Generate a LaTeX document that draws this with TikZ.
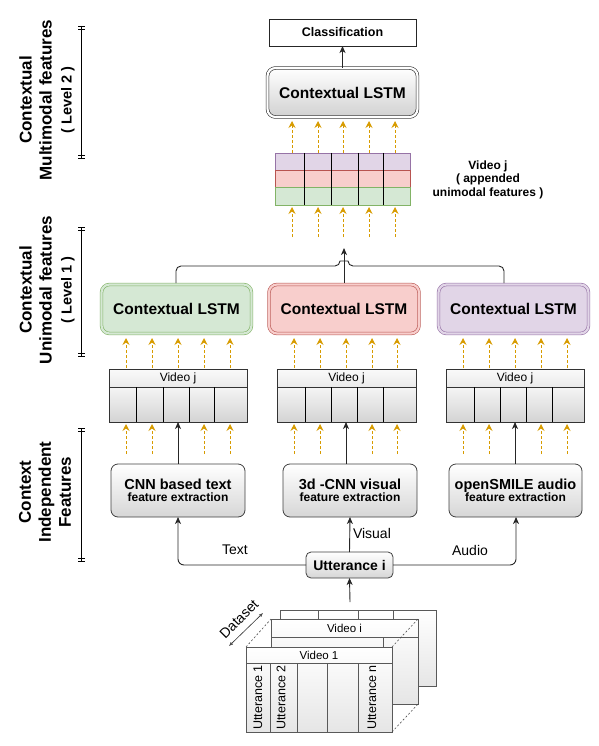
\documentclass[tikz,border=0pt]{standalone}
\usepackage{fontspec}
\setmainfont{Liberation Sans}
\usetikzlibrary{arrows.meta,calc}
\definecolor{orng}{HTML}{D79B00}
\definecolor{gfill}{HTML}{D5E8D4}\definecolor{gline}{HTML}{82B366}
\definecolor{rfill}{HTML}{F8CECC}\definecolor{rline}{HTML}{B85450}
\definecolor{pfill}{HTML}{E1D5E7}\definecolor{pline}{HTML}{9673A6}
\newcommand\fsz[2]{\fontsize{#1}{#2}\selectfont}
\tikzset{
  every node/.style={inner sep=0pt, outer sep=0pt},
  darr/.style={draw=orng, line width=0.9pt, dash pattern=on 3pt off 2pt,
    -{Stealth[length=7pt,width=7pt,inset=2.5pt,sep=0pt]}},
  sarr/.style={draw=black!85, line width=0.9pt, -{Stealth[length=7pt,width=6pt,inset=2pt]}},
  sline/.style={draw=black!85, line width=0.9pt},
  featbox/.style={draw=black!75, line width=0.8pt, rounded corners=7pt,
    top color=white, bottom color=black!16, minimum width=134pt, minimum height=53pt, align=center},
  lstmbase/.style={line width=0.6pt, double distance=2.2pt, rounded corners=8pt,
    minimum width=150pt, minimum height=49pt, font=\fsz{15.5}{18}\bfseries},
  lstmg/.style={lstmbase, draw=gline, double=gfill, fill=gfill},
  lstmr/.style={lstmbase, draw=rline, double=rfill, fill=rfill},
  lstmp/.style={lstmbase, draw=pline, double=pfill, fill=pfill},
  lstmtop/.style={lstmbase, draw=black!85, double=white, top color=white, bottom color=black!18},
  vhead/.style={draw=black!80, line width=0.8pt, top color=black!2, bottom color=black!8,
    minimum width=138pt, minimum height=18pt, anchor=north west, font=\fsz{12}{14}},
  vcell/.style={draw=black!80, line width=0.8pt, top color=black!4, bottom color=black!17,
    minimum width=138pt, minimum height=35pt, anchor=north west},
  gridrow/.style={line width=0.8pt, minimum width=135pt, minimum height=17.33pt},
  card/.style={draw=black!65, line width=0.7pt, top color=white, bottom color=black!10},
  sidelabel/.style={rotate=90, align=center, font=\fsz{17}{20}\bfseries},
}
\begin{document}
\begin{tikzpicture}[x=1pt,y=-1pt]
\useasboundingbox (0,0) rectangle (598,746);

% ---------------- side labels ----------------
\node[sidelabel] (lab2) at (47,100) {Contextual\\Multimodal features\\{\fsz{14.5}{20}( Level 2 )}};
\node[sidelabel] (lab1) at (47,290) {Contextual\\Unimodal features\\{\fsz{14.5}{20}( Level 1 )}};
\node[sidelabel] (lab0) at (45,492) {Context\\Independent\\Features};
\foreach \ya/\yb in {26/158, 227/356, 428/561}{
  \draw[line width=0.8pt] (81,\ya) -- (81,\yb);
  \draw[line width=0.7pt] (78,\ya) -- (85,\ya) (78,\ya+3) -- (85,\ya+3)
     (78,\yb) -- (85,\yb) (78,\yb-3) -- (85,\yb-3);
}

% ---------------- level 2 ----------------
\node[draw=black!85, line width=0.8pt, fill=white, minimum width=147pt, minimum height=27pt,
  font=\fsz{12.5}{15}\bfseries] (cls) at (342.5,32.5) {Classification};
\node[lstmtop] (lstm2) at (342.5,92.5) {Contextual LSTM};
\draw[sarr] (lstm2.north) -- (cls.south);

% appended features grid
\node[gridrow, draw=pline, fill=pfill] (rowp) at (342.5,161.67) {};
\node[gridrow, draw=rline, fill=rfill] (rowr) at (342.5,179) {};
\node[gridrow, draw=gline, fill=gfill] (rowg) at (342.5,196.33) {};
\foreach \x in {304,331,358,383} \draw[line width=0.8pt] (\x,153) -- (\x,205);
\node[align=center, font=\fsz{12}{13.5}\bfseries] (leg) at (488,179.5)
  {Video j\\( appended\\unimodal features )};

\foreach \x [count=\i] in {292,318,343,369,395}{
  \coordinate (ta\i) at (\x,153);
  \coordinate (tb\i) at (\x,121);
  \draw[darr] (ta\i) -- (tb\i);
  \coordinate (ua\i) at (\x,237);
  \coordinate (ub\i) at (\x,207);
  \draw[darr] (ua\i) -- (ub\i);
}

% ---------------- level 1 ----------------
\node[lstmg] (lg) at (176.5,309) {Contextual LSTM};
\node[lstmr] (lr) at (344,309) {Contextual LSTM};
\node[lstmp] (lp) at (513.5,309) {Contextual LSTM};
\coordinate (merge) at (344,248);
\draw[sline, rounded corners=5pt] (176,283) -- (176,266) -- (340,266)
   .. controls (340,261) and (348,261) .. (348,266) -- (504,266) -- (504,283);
\draw[sarr] (344,283) -- (merge);

% video j boxes
\node[vhead] (vlh) at (109,369) {Video j};
\node[vcell] (vlc) at (109,387) {};
\node[vhead, minimum width=139pt] (vmh) at (277,369) {Video j};
\node[vcell, minimum width=139pt] (vmc) at (277,387) {};
\node[vhead] (vrh) at (446,369) {Video j};
\node[vcell] (vrc) at (446,387) {};
\foreach \x in {136,163,189,214, 305,331,357,383, 474,500,526,552}
  \draw[line width=0.8pt] (\x,387) -- (\x,422);

% dashed arrows around video boxes
\foreach \x [count=\i] in {126,152,178,204,230, 294,320,346,372,397, 463,489,515,541,567}{
  \coordinate (va\i) at (\x,368);
  \coordinate (vb\i) at (\x,338);
  \draw[darr] (va\i) -- (vb\i);
}
\foreach \x [count=\i] in {126,152,204,230, 294,320,372,397, 463,489,541,567}{
  \coordinate (wa\i) at (\x,454);
  \coordinate (wb\i) at (\x,424);
  \draw[darr] (wa\i) -- (wb\i);
}

% ---------------- feature extraction ----------------
\node[featbox] (cnn) at (178,490.5)
  {\fsz{14.5}{17}\bfseries CNN based text\\\fsz{12}{15}\bfseries feature extraction};
\node[featbox] (vis) at (350,490.5)
  {\fsz{14.5}{17}\bfseries 3d -CNN visual\\\fsz{12}{15}\bfseries feature extraction};
\node[featbox, minimum width=133pt] (aud) at (515.5,490.5)
  {\fsz{14.5}{17}\bfseries openSMILE audio\\\fsz{12}{15}\bfseries feature extraction};
\draw[sarr] (178,464) -- (178,422);
\draw[sarr] (346,464) -- (346,422);
\draw[sarr] (515,464) -- (515,422);

% ---------------- utterance ----------------
\node[draw=black!75, line width=0.8pt, rounded corners=5pt, top color=white, bottom color=black!16,
  minimum width=87pt, minimum height=26pt, font=\fsz{14}{16}\bfseries] (utt) at (349.5,565) {Utterance i};
\draw[sarr, rounded corners=6pt] (utt.west) -- (178,565) -- (cnn.south);
\draw[sarr, rounded corners=6pt] (utt.east) -- (516,565) -- (516,517);
\draw[sarr] (utt.north) -- (vis.south);
\node[font=\fsz{14}{16}] (ttext) at (235,550) {Text};
\node[font=\fsz{14}{16}] (taud) at (470,550) {Audio};
\node[font=\fsz{14}{16}, anchor=west] (tvis) at (353,533) {Visual};
\coordinate (dsTop) at (350,602);
\draw[sarr] (dsTop) -- (utt.south);

% ---------------- dataset cards ----------------
% back card
\draw[card] (280,610) rectangle (436,686);
\foreach \x in {318,358,393} \draw[draw=black!65, line width=0.7pt] (\x,610) -- (\x,686);
% middle card
\draw[card] (271,619) rectangle (418,704);
\draw[draw=black!65, line width=0.7pt] (271,637) -- (418,637) (383,637) -- (383,704);
\node[font=\fsz{11.5}{13}] (vi) at (344.5,628) {Video i};
% front card
\draw[card] (246,647) rectangle (392,732);
\draw[draw=black!65, line width=0.7pt] (246,663) -- (392,663);
\foreach \x in {270,297,327,358} \draw[draw=black!65, line width=0.7pt] (\x,663) -- (\x,732);
\node[font=\fsz{11.5}{13}] (v1) at (319,655) {Video 1};
\node[rotate=90, font=\fsz{12.5}{14}] (u1) at (258,697.5) {Utterance 1};
\node[rotate=90, font=\fsz{12.5}{14}] (u2) at (281,697.5) {Utterance 2};
\node[rotate=90, font=\fsz{12.5}{14}] (un) at (372,697.5) {Utterance n};
% dashed depth lines
\draw[black!70, line width=0.6pt, dash pattern=on 2pt off 2pt]
  (246,647) -- (271,619) (392,647) -- (418,619) (392,732) -- (418,704);
% dataset label
\node[rotate=45, font=\fsz{14}{16}] (dslab) at (239,619) {Dataset};
\coordinate (dsA) at (229,646);
\coordinate (dsB) at (263,613);
\draw[black!80, line width=0.6pt, {Latex[open,length=4pt,width=3.5pt]}-{Latex[open,length=4pt,width=3.5pt]}] (dsA) -- (dsB);
\end{tikzpicture}
\end{document}
